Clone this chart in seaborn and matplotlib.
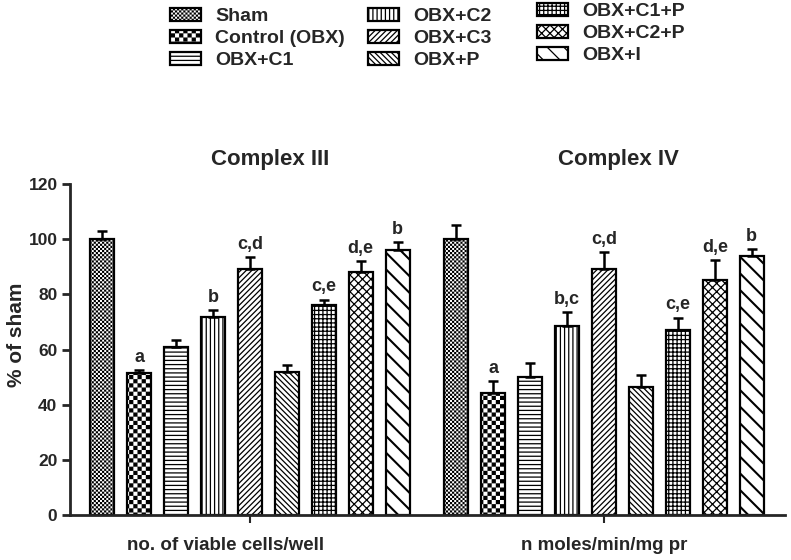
import numpy as np
import pandas as pd
import matplotlib
matplotlib.use("Agg")
import matplotlib.pyplot as plt
import matplotlib.hatch as mhatch
import matplotlib.transforms as mtrans
from matplotlib.path import Path
from matplotlib.container import BarContainer
import seaborn as sns

# ---- data ----
groups = ["Complex III", "Complex IV"]
group_units = ["no. of viable cells/well", "n moles/min/mg pr"]
treatments = ["Sham", "Control (OBX)", "OBX+C1", "OBX+C2", "OBX+C3",
              "OBX+P", "OBX+C1+P", "OBX+C2+P", "OBX+I"]

complex3_mean = [100.0, 51.6, 61.0, 71.9, 89.1, 52.0, 76.0, 88.2, 96.1]
complex3_sem = [3.0, 1.0, 2.3, 2.3, 4.3, 2.5, 2.1, 4.0, 2.7]
complex4_mean = [100.0, 44.2, 50.2, 68.4, 89.1, 46.3, 67.1, 85.3, 94.0]
complex4_sem = [5.1, 4.2, 5.0, 5.1, 6.1, 4.3, 4.5, 7.2, 2.5]

complex3_sig = ["", "a", "", "b", "c,d", "", "c,e", "d,e", "b"]
complex4_sig = ["", "a", "", "b,c", "c,d", "", "c,e", "d,e", "b"]

# hatch for each treatment ('O' is re-used below as a square checkerboard)
hatches = ["OOOOOOOO", "OOOO", "----", "||||", "//////",
           "\\\\\\\\\\\\", "++++", "xxxx", "\\\\"]


class CheckerHatch(mhatch.HatchPatternBase):
    """axis aligned checkerboard, more 'O' -> finer squares"""

    def __init__(self, hatch, density):
        n = hatch.count("O") * density
        self.n = n - n % 2
        self.num_vertices = (self.n * self.n // 2) * 5

    def set_vertices_and_codes(self, vertices, codes):
        step = 1.0 / self.n
        ins = 0.006  # compensate for the hatch stroke
        k = 0
        for r in range(self.n):
            for c in range(self.n):
                if (r + c) % 2:
                    continue
                x0, y0 = c * step + ins, r * step + ins
                x1, y1 = (c + 1) * step - ins, (r + 1) * step - ins
                vertices[k:k + 5] = [(x0, y0), (x1, y0), (x1, y1), (x0, y1), (x0, y0)]
                codes[k:k + 5] = [Path.MOVETO, Path.LINETO, Path.LINETO,
                                  Path.LINETO, Path.CLOSEPOLY]
                k += 5


mhatch._hatch_types = [t for t in mhatch._hatch_types
                       if t is not mhatch.LargeCircles] + [CheckerHatch]

df = pd.DataFrame({
    "group": [groups[0]] * 9 + [groups[1]] * 9,
    "treatment": treatments * 2,
    "value": complex3_mean + complex4_mean,
})

sns.set_style("ticks")
plt.rcParams["font.family"] = ["Liberation Sans", "DejaVu Sans"]
plt.rcParams["font.weight"] = "bold"
plt.rcParams["hatch.linewidth"] = 0.9

fig, ax = plt.subplots(figsize=(7.91, 5.6), dpi=100)
fig.subplots_adjust(left=70 / 791, right=785 / 791,
                    bottom=1 - 515 / 560, top=1 - 184 / 560)

sns.barplot(data=df, x="group", y="value", hue="treatment",
            order=groups, hue_order=treatments,
            palette=["white"] * 9, saturation=1, errorbar=None,
            width=0.938, gap=0.35, edgecolor="black", linewidth=1.6,
            legend=False, ax=ax)

bars = [c for c in ax.containers if isinstance(c, BarContainer)]
sems = [complex3_sem, complex4_sem]
sigs = [complex3_sig, complex4_sig]
for i, cont in enumerate(bars):
    for j, p in enumerate(cont.patches):
        p.set_hatch(hatches[i])
        if i == 8 and hasattr(p, "set_hatch_linewidth"):
            p.set_hatch_linewidth(1.5)
        x = p.get_x() + p.get_width() / 2
        y = p.get_height()
        ax.errorbar([x], [y], yerr=[[0], [sems[j][i]]], fmt="none",
                    ecolor="black", elinewidth=1.8, capsize=3.3,
                    capthick=1.8, zorder=3)
        if sigs[j][i]:
            ax.annotate(sigs[j][i], (x, y + sems[j][i]), xytext=(0, 3),
                        textcoords="offset points", ha="center", va="bottom",
                        fontsize=13, fontweight="bold")

ax.set_ylim(0, 120)
ax.set_xlim(-0.508, 1.511)
ax.set_yticks(range(0, 121, 20))
ax.set_xticks([0, 1])
ax.set_xticklabels(group_units, fontsize=13.5, fontweight="bold")
ax.tick_params(axis="y", labelsize=12.5, width=2, length=6, pad=3)
ax.tick_params(axis="x", width=1.5, length=6, pad=10)
# first unit label sits a little to the left of its tick
lbl = ax.get_xticklabels()[0]
lbl.set_transform(lbl.get_transform() +
                  mtrans.ScaledTranslation(-0.24, 0, fig.dpi_scale_trans))

ax.set_xlabel("")
ax.set_ylabel("% of sham", fontsize=15, fontweight="bold")
ax.yaxis.set_label_coords(-0.062, 0.545)
for s in ["left", "bottom"]:
    ax.spines[s].set_linewidth(2)
sns.despine(ax=ax)

fig.text(270 / 791, 1 - 160 / 560, groups[0], ha="center", va="center",
         fontsize=16, fontweight="bold")
fig.text(618 / 791, 1 - 160 / 560, groups[1], ha="center", va="center",
         fontsize=16, fontweight="bold")

# legend in three columns above the plot
handles = [c.patches[0] for c in bars]
col_x = [170, 368, 537]
col_top = [8, 8, 3]
for k in range(3):
    fig.legend(handles[k * 3:k * 3 + 3], treatments[k * 3:k * 3 + 3],
               loc="upper left",
               bbox_to_anchor=(col_x[k] / 791, 1 - col_top[k] / 560),
               frameon=False, prop={"size": 14, "weight": "bold"},
               handlelength=1.6, handleheight=0.62, handletextpad=0.72,
               labelspacing=0.25, borderpad=0, borderaxespad=0)

fig.savefig("out.png", dpi=100)
